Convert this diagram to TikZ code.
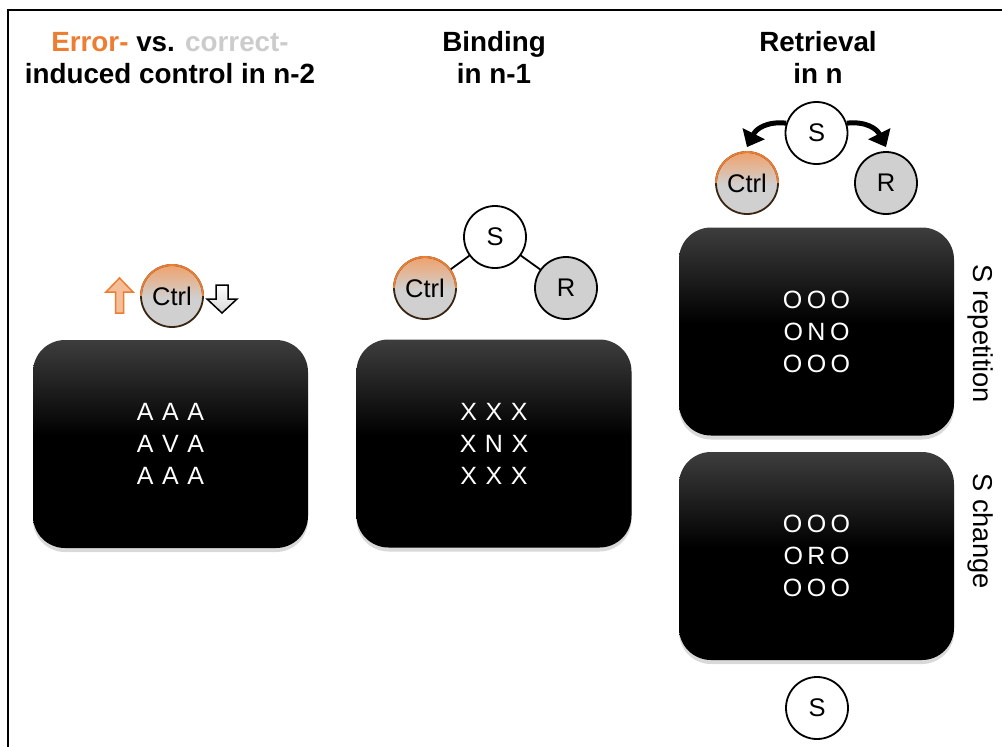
\documentclass[tikz,border=0pt]{standalone}
\usepackage{fontspec}
\setmainfont{Liberation Sans}
\usetikzlibrary{shadows,arrows.meta}
\definecolor{ora}{HTML}{ED7D31}
\definecolor{oralight}{HTML}{F0A26C}
\definecolor{cgray}{HTML}{D0D0D0}
\definecolor{ltgray}{HTML}{CCCCCC}
\definecolor{ctrlrim}{HTML}{3A2412}
\pgfdeclareverticalshading{ctrlshade}{100bp}{color(0bp)=(cgray); color(48bp)=(cgray); color(75bp)=(oralight); color(100bp)=(oralight)}
\pgfdeclareverticalshading{screenshade}{100bp}{color(0bp)=(black); color(52bp)=(black); color(75bp)=(black!76); color(100bp)=(black!76)}
\newcommand\gridrow[4][8.5pt]{#2\hspace{#1}#3\hspace{#1}#4}
\begin{document}
\begin{tikzpicture}[x=1pt,y=-1pt,
  screen/.style={rectangle, rounded corners=32pt, minimum width=275pt, minimum height=208pt,
    shading=screenshade,
    drop shadow={shadow xshift=0pt, shadow yshift=-4pt, opacity=0.3},
    text=white, align=center, font=\fontsize{25}{32}\selectfont},
  circ/.style={circle, draw, line width=1.8pt, minimum size=62pt, inner sep=0pt, font=\fontsize{25.5}{25}\selectfont},
  wcirc/.style={circ, fill=white},
  gcirc/.style={circ, fill=cgray},
  ccirc/.style={circ, draw=none, shading=ctrlshade},
  rim/.style={ctrlrim, line width=1.8pt},
  rimtop/.style={ora, line width=1.8pt},
  title/.style={anchor=base, font=\fontsize{27.8}{28}\selectfont\bfseries},
  side/.style={rotate=-90, font=\fontsize{27.3}{27}\selectfont},
  link/.style={line width=1.8pt},
  bigarrow/.style={line width=5pt, -{Triangle[length=15pt,width=24pt]}}
]
\useasboundingbox (0,0) rectangle (1002,747);
% frame
\draw[line width=1.5pt] (8,747) -- (8,10) -- (1002,10);

% titles
\node[title] (t1a) at (170,51) {\textcolor{ora}{Error-} vs. \textcolor{ltgray}{correct-}};
\node[title] (t1b) at (170,83) {induced control in n-2};
\node[title] (t2a) at (494,51) {Binding};
\node[title] (t2b) at (494,83) {in n-1};
\node[title] (t3a) at (818,51) {Retrieval};
\node[title] (t3b) at (818,83) {in n};

% screens
\node[screen] (b1) at (170.5,444) {\gridrow AAA\\\gridrow AVA\\\gridrow AAA};
\node[screen] (b2) at (494,443.5) {\gridrow XXX\\\gridrow XNX\\\gridrow XXX};
\node[screen] (b3) at (816.5,331.5) {\gridrow[4.5pt] OOO\\\gridrow[4.5pt] ONO\\\gridrow[4.5pt] OOO};
\node[screen] (b4) at (816.5,556) {\gridrow[4.5pt] OOO\\\gridrow[4.5pt] ORO\\\gridrow[4.5pt] OOO};

% side labels
\node[side] (l1) at (981,334) {S repetition};
\node[side] (l2) at (981,531) {S change};

% left panel
\node[ccirc] (C1) at (172,296) {};
\draw[rim] (C1.center) circle[radius=31];
\draw[rimtop] (C1.center) ++(-31,0) arc[start angle=180, end angle=360, radius=31];
\node[font=\fontsize{25.5}{25}\selectfont] (C1t) at (C1.center) {Ctrl};
\draw[ora, line width=1.5pt, fill=oralight!70!white, line join=miter]
  (119.5,278) -- (133,292) -- (123.5,292) -- (123.5,313) -- (115.5,313) -- (115.5,292) -- (106,292) -- cycle;
\draw[black, line width=1.5pt, top color=white, bottom color=black!15, line join=miter]
  (216,285) -- (228,285) -- (228,299) -- (237,299) -- (222,313) -- (207,299) -- (216,299) -- cycle;

% middle panel
\node[wcirc] (S2) at (495,237) {S};
\node[ccirc] (C2) at (425,288) {};
\draw[rim] (C2.center) circle[radius=31];
\draw[rimtop] (C2.center) ++(-31,0) arc[start angle=180, end angle=360, radius=31];
\node[font=\fontsize{25.5}{25}\selectfont] (C2t) at (C2.center) {Ctrl};
\node[gcirc] (R2) at (566,288) {R};
\draw[link] (C2) -- (S2);
\draw[link] (S2) -- (R2);

% right panel
\node[wcirc] (S3) at (816.5,133) {S};
\node[ccirc] (C3) at (747,183) {};
\draw[rim] (C3.center) circle[radius=31];
\draw[rimtop] (C3.center) ++(-31,0) arc[start angle=180, end angle=360, radius=31];
\node[font=\fontsize{25.5}{25}\selectfont] (C3t) at (C3.center) {Ctrl};
\node[gcirc] (R3) at (886,183) {R};
\draw[bigarrow] (S3.162) .. controls +(-20,-2) and +(9,-18) .. ([yshift=4pt]C3.north);
\draw[bigarrow] (S3.18) .. controls +(20,-2) and +(-9,-18) .. ([yshift=4pt]R3.north);

% bottom S
\node[wcirc] (S4) at (817,708) {S};
\end{tikzpicture}
\end{document}
